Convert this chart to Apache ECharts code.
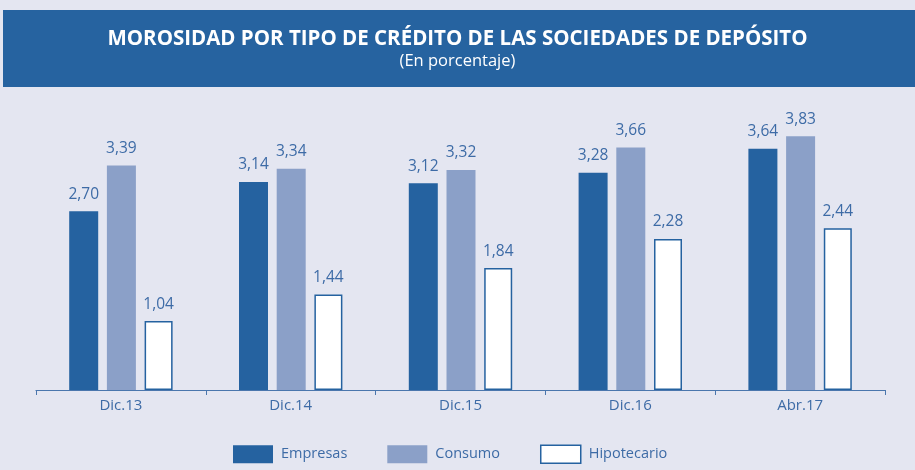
<!DOCTYPE html>
<html>
<head>
<meta charset="utf-8">
<script src="https://cdn.jsdelivr.net/npm/echarts@6/dist/echarts.min.js"></script>
<style>
  html, body { margin: 0; padding: 0; background: #e4e6f1; }
  #chart { width: 915px; height: 470px; }
</style>
</head>
<body>
<div id="chart"></div>
<script>
// datos
var categorias = ['Dic.13', 'Dic.14', 'Dic.15', 'Dic.16', 'Abr.17'];
var empresas = [2.70, 3.14, 3.12, 3.28, 3.64];
var consumo = [3.39, 3.34, 3.32, 3.66, 3.83];
var hipotecario = [1.04, 1.44, 1.84, 2.28, 2.44];

var azul = '#2562a0';
var azulClaro = '#8ba0c8';
var textoAzul = '#3d6ba6';
var fuente = '"Open Sans", "Noto Sans", sans-serif';

function etiqueta() {
    return {
        show: true,
        position: 'top',
        distance: 9,
        color: textoAzul,
        fontSize: 15.5,
        fontFamily: fuente,
        formatter: function (p) {
            return p.value.toFixed(2).replace('.', ',');
        }
    };
}

var chart = echarts.init(document.getElementById('chart'));
chart.setOption({
    backgroundColor: '#e4e6f1',
    animation: false,
    graphic: [{
        type: 'rect',
        shape: { x: 3, y: 10, width: 912, height: 77 },
        style: { fill: '#2663a0' },
        z: 0
    }],
    title: {
        text: 'MOROSIDAD POR TIPO DE CRÉDITO DE LAS SOCIEDADES DE DEPÓSITO',
        subtext: '(En porcentaje)',
        left: 'center',
        top: 24,
        itemGap: 3,
        textStyle: { color: '#ffffff', fontSize: 20.5, fontWeight: 'bold', fontFamily: fuente },
        subtextStyle: { color: '#ffffff', fontSize: 16.5, fontFamily: fuente }
    },
    legend: {
        bottom: 1,
        left: 228,
        itemWidth: 40,
        itemHeight: 18,
        itemGap: 40,
        textStyle: { color: textoAzul, fontSize: 14.5, fontFamily: fuente, padding: [0, 0, 0, 3] },
        data: [
            { name: 'Empresas', icon: 'rect' },
            { name: 'Consumo', icon: 'rect' },
            { name: 'Hipotecario', icon: 'rect', itemStyle: { color: '#ffffff', borderColor: azul, borderWidth: 1.5 } }
        ]
    },
    grid: { left: 36, right: 30, top: 125, bottom: 80 },
    xAxis: {
        type: 'category',
        data: categorias,
        axisLine: { lineStyle: { color: '#4a76ad', width: 1.2 } },
        axisTick: { show: true, length: 5, lineStyle: { color: '#4a76ad' } },
        axisLabel: { color: textoAzul, fontSize: 15, fontFamily: fuente, margin: 8 }
    },
    yAxis: {
        type: 'value',
        min: 0,
        max: 4,
        show: false,
        splitLine: { show: false }
    },
    series: [{
        name: 'Empresas',
        type: 'bar',
        data: empresas,
        barWidth: 29,
        barGap: '30%',
        itemStyle: { color: azul },
        label: etiqueta()
    }, {
        name: 'Consumo',
        type: 'bar',
        data: consumo,
        barWidth: 29,
        barGap: '30%',
        itemStyle: { color: azulClaro },
        label: etiqueta()
    }, {
        name: 'Hipotecario',
        type: 'bar',
        data: hipotecario,
        barWidth: 28,
        barGap: '30%',
        itemStyle: { color: '#ffffff', borderColor: azul, borderWidth: 1.5 },
        label: etiqueta()
    }]
});
</script>
</body>
</html>
